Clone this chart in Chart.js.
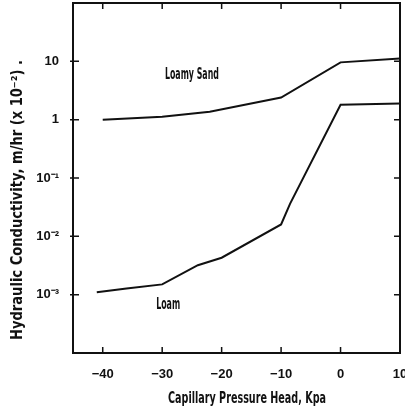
<!DOCTYPE html>
<html>
<head>
<meta charset="utf-8">
<script src="https://cdn.jsdelivr.net/npm/chart.js@4"></script>
<style>
  body { margin: 0; background: #fff; }
  #wrap { width: 405px; height: 415px; }
</style>
</head>
<body>
<div id="wrap"><canvas id="my-chart" width="405" height="415"></canvas></div>
<script>
'use strict';

// *** DATA ***

let sandHead = [-40, -30, -22, -10, 0, 10];
let sandK = [1.0, 1.12, 1.37, 2.4, 9.6, 11.2];

let loamHead = [-41, -36, -30, -24, -20, -10, -8.5, 0, 10];
let loamK = [0.0011, 0.00127, 0.0015, 0.0032, 0.0043, 0.016, 0.036, 1.8, 1.9];

let xTicks = [-40, -30, -20, -10, 0, 10];
let yTicks = [0.0001, 0.001, 0.01, 0.1, 1, 10, 100];
let yTickLabels = ['', '10\u207B\u00B3', '10\u207B\u00B2', '10\u207B\u00B9', '1', '10', ''];

let curveNames = ['Loamy Sand', 'Loam'];
let nameSpots = [[-25, 5.7], [-29, 0.00067]];

let xTitle = 'Capillary Pressure Head, Kpa';
let yTitle = 'Hydraulic Conductivity, m/hr (x 10\u207B\u00B2) .';

// *** HELPERS ***

function toPoints(xs, ys) {
  let pts = [];
  for (let i = 0; i < xs.length; i++) {
    pts.push({ x: xs[i], y: ys[i] });
  }
  return pts;
}

let ink = '#111';
let face = '"DejaVu Sans", sans-serif';

// squeeze text to a given width, like the narrow typewriter face of the scan
function narrowText(ctx, text, cx, cy, size, width) {
  ctx.save();
  ctx.font = 'bold ' + size + 'px ' + face;
  let w = ctx.measureText(text).width;
  ctx.translate(cx, cy);
  ctx.scale(width / w, 1);
  ctx.textAlign = 'center';
  ctx.textBaseline = 'middle';
  ctx.fillText(text, 0, 0);
  ctx.restore();
}

// frame, inward ticks, curve names and axis titles
let decor = {
  id: 'decor',
  afterDraw(chart) {
    let ctx = chart.ctx;
    let a = chart.chartArea;
    let x = chart.scales.x;
    let y = chart.scales.y;
    ctx.save();
    ctx.strokeStyle = ink;
    ctx.lineWidth = 2;
    ctx.strokeRect(a.left, a.top, a.right - a.left, a.bottom - a.top);

    ctx.lineWidth = 1.5;
    ctx.beginPath();
    x.ticks.forEach(t => {
      let px = x.getPixelForValue(t.value);
      if (px > a.right - 2) return;
      ctx.moveTo(px, a.bottom); ctx.lineTo(px, a.bottom - 6);
      ctx.moveTo(px, a.top); ctx.lineTo(px, a.top + 6);
    });
    y.ticks.forEach(t => {
      let py = y.getPixelForValue(t.value);
      if (py < a.top + 2 || py > a.bottom - 2) return;
      ctx.moveTo(a.left - 3, py); ctx.lineTo(a.left + 6, py);
      ctx.moveTo(a.right, py); ctx.lineTo(a.right - 6, py);
    });
    ctx.stroke();

    ctx.fillStyle = ink;
    narrowText(ctx, curveNames[0], x.getPixelForValue(nameSpots[0][0]), y.getPixelForValue(nameSpots[0][1]), 15, 54);
    narrowText(ctx, curveNames[1], x.getPixelForValue(nameSpots[1][0]), y.getPixelForValue(nameSpots[1][1]), 15, 24);

    narrowText(ctx, xTitle, 247, 399, 16, 158);

    ctx.translate(18, 200);
    ctx.rotate(-Math.PI / 2);
    narrowText(ctx, yTitle, 0, 0, 15, 280);
    ctx.restore();
  }
};

// *** CHART ***

let canvasElem = document.getElementById('my-chart');

let myObj = {
  type: 'line',
  data: {
    datasets: [{
      label: curveNames[0],
      data: toPoints(sandHead, sandK),
      borderColor: ink,
      borderWidth: 2,
      pointRadius: 0,
      fill: false
    },
    {
      label: curveNames[1],
      data: toPoints(loamHead, loamK),
      borderColor: ink,
      borderWidth: 2,
      pointRadius: 0,
      fill: false
    }]
  },
  options: {
    responsive: false,
    animation: false,
    layout: { padding: { top: 3, right: 5, left: 0, bottom: 0 } },
    plugins: {
      legend: { display: false },
      tooltip: { enabled: false }
    },
    scales: {
      x: {
        type: 'linear',
        min: -45,
        max: 10,
        grid: { display: false },
        border: { display: false },
        afterBuildTicks: scale => { scale.ticks = xTicks.map(v => ({ value: v })); },
        afterFit: scale => {
          scale.height = 62;
          scale.paddingLeft = 0;
          scale.paddingRight = 0;
        },
        ticks: {
          padding: 6,
          color: ink,
          maxRotation: 0,
          font: { family: '"Liberation Sans", sans-serif', size: 13, weight: 'bold' },
          callback: v => (v < 0 ? '\u2212' + Math.abs(v) : String(v))
        }
      },
      y: {
        type: 'logarithmic',
        min: 0.0001,
        max: 100,
        grid: { display: false },
        border: { display: false },
        afterBuildTicks: scale => { scale.ticks = yTicks.map(v => ({ value: v })); },
        afterFit: scale => {
          scale.width = 73;
          scale.paddingTop = 0;
          scale.paddingBottom = 0;
        },
        ticks: {
          padding: 6,
          color: ink,
          font: { family: '"Liberation Sans", sans-serif', size: 13, weight: 'bold' },
          callback: (v, i) => yTickLabels[i]
        }
      }
    }
  },
  plugins: [decor]
};

new Chart(canvasElem, myObj);
</script>
</body>
</html>
